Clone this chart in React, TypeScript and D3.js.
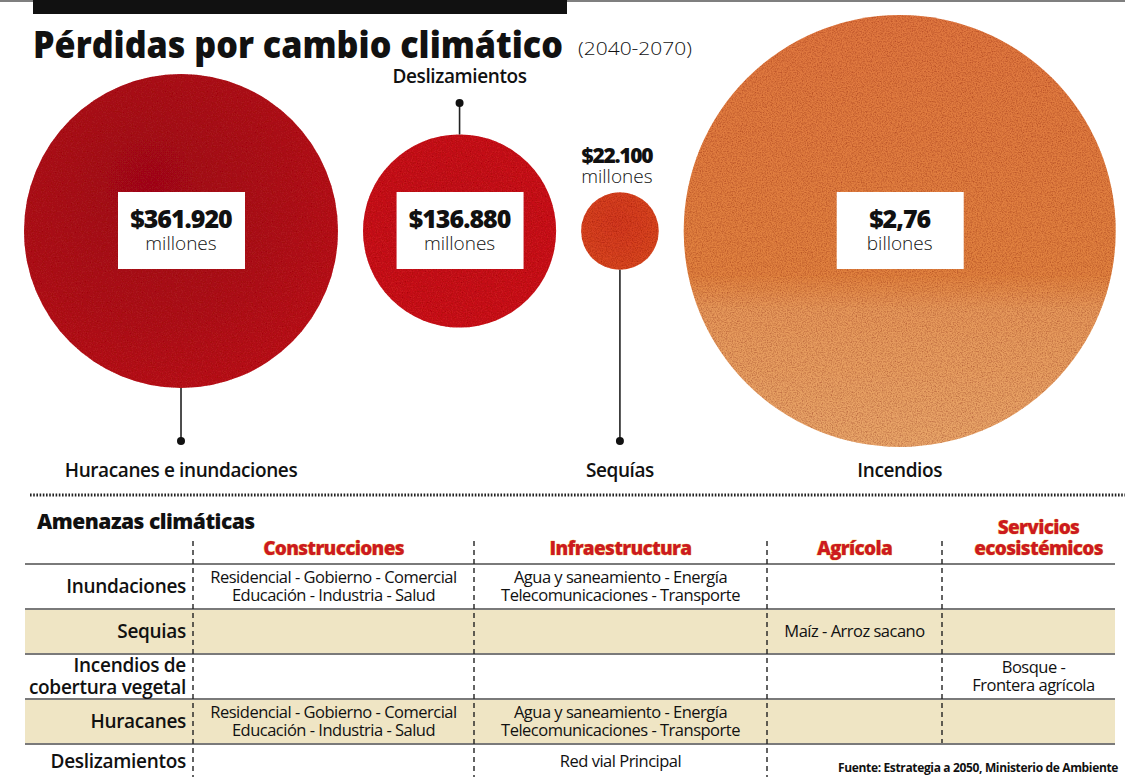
import React from "react";
import * as d3 from "d3";

// ---------- DATA ----------
const hazards = ["Huracanes e inundaciones", "Deslizamientos", "Sequías", "Incendios"];
const lossesMillions = [361920, 136880, 22100, 2760000];
const amountLabels = ["$361.920", "$136.880", "$22.100", "$2,76"];
const unitLabels = ["millones", "millones", "millones", "billones"];
const labelSide = ["below", "above", "below", "plain"];
const valueInside = [true, true, false, true];

const threatRows = ["Inundaciones", "Sequias", "Incendios de\ncobertura vegetal", "Huracanes", "Deslizamientos"];
const sectorCols = ["Construcciones", "Infraestructura", "Agrícola", "Servicios\necosistémicos"];
const construccionesCells = [
  "Residencial - Gobierno - Comercial\nEducación - Industria - Salud",
  "",
  "",
  "Residencial - Gobierno - Comercial\nEducación - Industria - Salud",
  "",
];
const infraestructuraCells = [
  "Agua y saneamiento - Energía\nTelecomunicaciones - Transporte",
  "",
  "",
  "Agua y saneamiento - Energía\nTelecomunicaciones - Transporte",
  "Red vial Principal",
];
const agricolaCells = ["", "Maíz - Arroz sacano", "", "", ""];
const serviciosCells = ["", "", "Bosque -\nFrontera agrícola", "", ""];
const cellColumns = [construccionesCells, infraestructuraCells, agricolaCells, serviciosCells];

const titleText = "Pérdidas por cambio climático";
const periodText = "(2040-2070)";
const tableTitle = "Amenazas climáticas";
const sourceText = "Fuente: Estrategia a 2050, Ministerio de Ambiente";

// ---------- STYLE ----------
const W = 1125;
const H = 777;
const FONT = "'Open Sans', 'DejaVu Sans', sans-serif";
const circleFills = ["url(#gHur)", "url(#gDes)", "url(#gSeq)", "url(#gInc)"];
const RED = "#cc1a1f";

export default function App() {
  // radius scale (area-proportional), clamped for the giant value as in the original
  const r = d3.scaleSqrt().domain([0, 685000]).range([0, 216]).clamp(true);
  const radii = lossesMillions.map((v) => r(v));
  const gap = 25;
  const startX = 24;
  const cy = 231;
  const centers: number[] = [];
  let cursor = startX;
  radii.forEach((rr) => {
    centers.push(cursor + rr);
    cursor += 2 * rr + gap;
  });

  // table layout
  const colEdges = [25, 193, 474, 767, 942, 1125];
  const rowY = d3.scaleBand<number>().domain(d3.range(threatRows.length)).range([563, 788]).padding(0);
  const bandH = rowY.bandwidth();
  const rowCenter = (i: number) => rowY(i)! + bandH / 2 + 1 - (i === threatRows.length - 1 ? 5 : 0);

  const multiline = (
    txt: string,
    x: number,
    cyy: number,
    anchor: string,
    size: number,
    weight: number,
    fill: string,
    lh: number,
    key: string,
    extra: any = {}
  ) => {
    const lines = txt.split("\n");
    const n = lines.length;
    return (
      <text key={key} x={x} textAnchor={anchor} fontFamily={FONT} fontSize={size} fontWeight={weight} fill={fill} {...extra}>
        {lines.map((l, i) => (
          <tspan key={i} x={x} y={cyy + size * 0.36 + (i - (n - 1) / 2) * lh}>
            {l}
          </tspan>
        ))}
      </text>
    );
  };

  return (
    <svg width={W} height={H} viewBox={`0 0 ${W} ${H}`} style={{ display: "block", position: "absolute", left: 0, top: 0, background: "#fff" }}>
      <defs>
        <radialGradient id="gHur" cx="40%" cy="35%" r="75%">
          <stop offset="0%" stopColor="#a0111a" />
          <stop offset="60%" stopColor="#ae141b" />
          <stop offset="100%" stopColor="#bd191e" />
        </radialGradient>
        <radialGradient id="gDes" cx="45%" cy="40%" r="70%">
          <stop offset="0%" stopColor="#c3111b" />
          <stop offset="100%" stopColor="#cd1a1f" />
        </radialGradient>
        <radialGradient id="gSeq" cx="45%" cy="40%" r="70%">
          <stop offset="0%" stopColor="#d33a20" />
          <stop offset="100%" stopColor="#da4a24" />
        </radialGradient>
        <linearGradient id="gInc" x1="0" y1="0" x2="0" y2="1">
          <stop offset="0%" stopColor="#e0773f" />
          <stop offset="60%" stopColor="#e1823f" />
          <stop offset="68%" stopColor="#e6985a" />
          <stop offset="100%" stopColor="#e9a66a" />
        </linearGradient>
        <filter id="grain" x="0" y="0" width="100%" height="100%">
          <feTurbulence type="fractalNoise" baseFrequency="0.8" numOctaves="2" seed="3" result="n" />
          <feColorMatrix in="n" type="matrix" values="0 0 0 0 0.3  0 0 0 0 0  0 0 0 0 0  0 0 0 -1.2 0.75" result="a" />
          <feComposite in="a" in2="SourceGraphic" operator="in" result="m" />
          <feMerge>
            <feMergeNode in="SourceGraphic" />
            <feMergeNode in="m" />
          </feMerge>
        </filter>
      </defs>

      {/* top rules */}
      <line x1={0} x2={W} y1={1} y2={1} stroke="#555" strokeWidth={1.5} />
      <rect x={33} y={0} width={534} height={14} fill="#111" />

      {/* title */}
      <text x={33} y={58} fontFamily={FONT} fontWeight={800} fontSize={37} fill="#111" textLength={530} lengthAdjust="spacingAndGlyphs">
        {titleText}
      </text>
      <text x={578} y={55} fontFamily={FONT} fontWeight={300} fontSize={19} fill="#111" textLength={114} lengthAdjust="spacingAndGlyphs">
        {periodText}
      </text>

      {/* circles */}
      {hazards.map((h, i) => {
        const cx = centers[i];
        const rr = radii[i];
        return (
          <g key={h}>
            <circle cx={cx} cy={cy} r={rr} fill={circleFills[i]} filter="url(#grain)" />
            {labelSide[i] === "below" && (
              <g>
                <line x1={cx} x2={cx} y1={cy + rr} y2={441} stroke="#222" strokeWidth={1.6} />
                <circle cx={cx} cy={441} r={4} fill="#111" />
              </g>
            )}
            {labelSide[i] === "above" && (
              <g>
                <line x1={cx} x2={cx} y1={cy - rr} y2={103} stroke="#222" strokeWidth={1.6} />
                <circle cx={cx} cy={103} r={4} fill="#111" />
              </g>
            )}
            <text
              x={cx}
              y={labelSide[i] === "above" ? 83 : 477}
              textAnchor="middle"
              fontFamily={FONT}
              fontWeight={600}
              fontSize={19}
              fill="#111"
              letterSpacing={-0.4}
            >
              {h}
            </text>
            {valueInside[i] ? (
              <g>
                <rect x={cx - 63} y={cy - 39} width={127} height={77} fill="#fff" />
                <text x={cx} y={cy - 3} textAnchor="middle" fontFamily={FONT} fontWeight={800} fontSize={25} fill="#111" letterSpacing={-1}>
                  {amountLabels[i]}
                </text>
                <text x={cx} y={cy + 19} textAnchor="middle" fontFamily={FONT} fontWeight={300} fontSize={19} fill="#111">
                  {unitLabels[i]}
                </text>
              </g>
            ) : (
              <g>
                <text x={cx - 3} y={cy - rr - 29} textAnchor="middle" fontFamily={FONT} fontWeight={800} fontSize={21} fill="#111" letterSpacing={-1.3}>
                  {amountLabels[i]}
                </text>
                <text x={cx - 3} y={cy - rr - 9} textAnchor="middle" fontFamily={FONT} fontWeight={300} fontSize={19} fill="#111">
                  {unitLabels[i]}
                </text>
              </g>
            )}
          </g>
        );
      })}

      {/* dotted separator */}
      <line x1={30} x2={W} y1={495} y2={495} stroke="#222" strokeWidth={3} strokeDasharray="1.6 1.6" />

      {/* table */}
      <text x={37} y={529} fontFamily={FONT} fontWeight={800} fontSize={21} fill="#111" letterSpacing={-0.5}>
        {tableTitle}
      </text>

      {/* row backgrounds */}
      {threatRows.map((t, i) =>
        i % 2 === 1 ? (
          <rect key={"bg" + i} x={colEdges[0]} y={rowY(i)!} width={1115 - colEdges[0]} height={bandH} fill="#efe5c4" />
        ) : null
      )}
      {/* row lines */}
      {threatRows.map((t, i) => (
        <line key={"rl" + i} x1={colEdges[0]} x2={1115} y1={rowY(i)! + 1} y2={rowY(i)! + 1} stroke="#7a7a7a" strokeWidth={2} />
      ))}

      {/* column dashed dividers (the last one stops above the source line) */}
      {colEdges.slice(1, 5).map((x, i) => (
        <line
          key={"cd" + i}
          x1={x}
          x2={x}
          y1={541}
          y2={i === 3 ? rowY(threatRows.length - 1)! : H}
          stroke="#222"
          strokeWidth={1.4}
          strokeDasharray="5 4"
        />
      ))}

      {/* column headers */}
      {sectorCols.map((s, i) => {
        const cx = (colEdges[i + 1] + colEdges[i + 2]) / 2 + (i === 3 ? 5 : 0);
        return multiline(s, cx, s.includes("\n") ? 538 : 548, "middle", 19, 800, RED, 21, "hdr" + i, {
          letterSpacing: -0.7,
          stroke: "#f3c64a",
          strokeWidth: 0.6,
          paintOrder: "stroke",
        });
      })}

      {/* row labels */}
      {threatRows.map((t, i) =>
        multiline(t, 186, rowCenter(i), "end", 19, 600, "#111", 22, "rlab" + i, { letterSpacing: -0.3 })
      )}

      {/* cells */}
      {cellColumns.map((col, j) =>
        col.map((c, i) => {
          if (!c) return null;
          const cx = (colEdges[j + 1] + colEdges[j + 2]) / 2;
          return multiline(c, cx, rowCenter(i), "middle", 16.5, 400, "#111", 18, `c${j}-${i}`, {
            letterSpacing: -0.5,
          });
        })
      )}

      {/* source */}
      <text x={838} y={772} fontFamily={FONT} fontWeight={700} fontSize={12} fill="#111" letterSpacing={-0.35}>
        {sourceText}
      </text>
    </svg>
  );
}
